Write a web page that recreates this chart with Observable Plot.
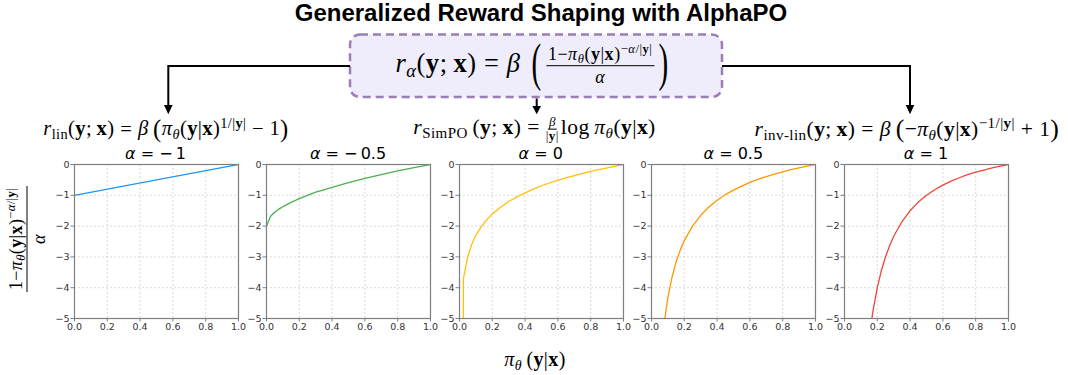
<!DOCTYPE html>
<html>
<head>
<meta charset="utf-8">
<script src="https://cdn.jsdelivr.net/npm/d3@7"></script>
<script src="https://cdn.jsdelivr.net/npm/@observablehq/plot@0.6"></script>
<style>
  html, body { margin: 0; padding: 0; background: #fff; }
  #wrap { position: relative; width: 1068px; height: 375px; background: #fff; overflow: hidden; }
  .title { position: absolute; left: 541px; top: 13px; transform: translate(-50%, -50%);
    font-family: "Liberation Sans", Arial, sans-serif; font-weight: bold; font-size: 24px; white-space: nowrap; color: #000; }
  .mf { position: absolute; transform: translate(-50%, -50%); font-family: "Liberation Serif", "DejaVu Serif", serif;
    white-space: nowrap; color: #000; line-height: 1; letter-spacing: 0.02em; }
  .mf i { font-style: italic; }
  .mf b { font-weight: bold; font-style: normal; }
  .mf sub { font-size: 70%; vertical-align: -0.25em; line-height: 0; }
  .mf sup { font-size: 70%; vertical-align: 0.55em; line-height: 0; }
  .rel { margin: 0 0.28em; }
  .frac { display: inline-flex; flex-direction: column; align-items: center; vertical-align: middle; }
  .frac > .num { border-bottom: 1px solid #000; padding: 0 2px 2px 2px; }
  .frac > .den { padding-top: 2px; }
  .frac.small { line-height: 0.95; margin-right: 2px; }
  .frac.small > .num { padding: 0 1px 1px 1px; }
  .frac.small > .den { padding-top: 0; }
  .bigp { display: inline-block; font-size: 2.0em; transform: scaleX(0.55); vertical-align: middle; line-height: 1; margin-top: -0.14em; }
  .mp { display: inline-block; font-size: 1.2em; vertical-align: -0.05em; line-height: 1; }
  .ptitle { position: absolute; transform: translate(-50%, 0); font-family: "DejaVu Sans", sans-serif; font-size: 16px; white-space: nowrap; color: #000; }
  .ptitle i { font-style: italic; }
  .panel { position: absolute; }
  #overlay { position: absolute; left: 0; top: 0; }
</style>
</head>
<body>
<div id="wrap">
  <svg id="overlay" width="1068" height="375">
    <rect x="350" y="34.5" width="372" height="62.5" rx="10" ry="10" fill="#EFEDFB" stroke="#9B7DB8" stroke-width="2.5" stroke-dasharray="8 5"></rect>
    <path d="M350,66 H168.3 V106" fill="none" stroke="#000" stroke-width="2"></path>
    <polygon points="164,105 172.6,105 168.3,114.3" fill="#000"></polygon>
    <path d="M536.7,98.5 V107" fill="none" stroke="#000" stroke-width="2"></path>
    <polygon points="532.4,106 541,106 536.7,114.3" fill="#000"></polygon>
    <path d="M722,66 H910 V106" fill="none" stroke="#000" stroke-width="2"></path>
    <polygon points="905.7,105 914.3,105 910,114.3" fill="#000"></polygon>
  </svg>
  <div class="title">Generalized Reward Shaping with AlphaPO</div>

  <div class="mf" style="left:534px; top:66px; font-size:26.5px;">
    <i>r</i><sub><i>α</i></sub>(<b>y</b>;&thinsp;<b>x</b>)<span class="rel">=</span><i>β</i>&nbsp;<span class="bigp">(</span><span class="frac" style="font-size:18px;"><span class="num">1−<i>π</i><sub><i>θ</i></sub>(<b>y</b>|<b>x</b>)<sup>−<i>α</i>/|<b>y</b>|</sup></span><span class="den"><i>α</i></span></span><span class="bigp">)</span>
  </div>

  <div class="mf" style="left:166px; top:129px; font-size:20.5px;">
    <i>r</i><sub>lin</sub>(<b>y</b>;&thinsp;<b>x</b>)<span class="rel">=</span><i>β</i>&thinsp;<span class="mp">(</span><i>π</i><sub><i>θ</i></sub>(<b>y</b>|<b>x</b>)<sup>1/|<b>y</b>|</sup> − 1<span class="mp">)</span>
  </div>

  <div class="mf" style="left:534.5px; top:129px; font-size:21.5px;">
    <i>r</i><sub>SimPO</sub>&thinsp;(<b>y</b>;&thinsp;<b>x</b>)<span class="rel">=</span><span class="frac small" style="font-size:13px;"><span class="num"><i>β</i></span><span class="den">|<b>y</b>|</span></span>log&thinsp;<i>π</i><sub><i>θ</i></sub>(<b>y</b>|<b>x</b>)
  </div>

  <div class="mf" style="left:907px; top:129px; font-size:21.5px;">
    <i>r</i><sub>inv-lin</sub>(<b>y</b>;&thinsp;<b>x</b>)<span class="rel">=</span><i>β</i>&thinsp;<span class="mp">(</span>−<i>π</i><sub><i>θ</i></sub>(<b>y</b>|<b>x</b>)<sup>−1/|<b>y</b>|</sup> + 1<span class="mp">)</span>
  </div>

  <div class="mf" style="left:27px; top:239px; font-size:18px; transform: translate(-50%, -50%) rotate(-90deg);">
    <span class="frac"><span class="num">1−<i>π</i><sub><i>θ</i></sub>(<b>y</b>|<b>x</b>)<sup>−<i>α</i>/|<b>y</b>|</sup></span><span class="den"><i>α</i></span></span>
  </div>

  <div class="mf" style="left:535px; top:359px; font-size:20px;">
    <i>π</i><sub><i>θ</i></sub>&thinsp;(<b>y</b>|<b>x</b>)
  </div>
</div>

<script>
// ---- Data ----
const alphaLabels = ["−1", "−0.5", "0", "0.5", "1"];
const xTicks = [0, 0.2, 0.4, 0.6, 0.8, 1.0];
const yTicks = [-5, -4, -3, -2, -1, 0];

const piAlphaM1 = [0, 0.5, 1];
const rAlphaM1  = [-1, -0.5, 0];

const piAlphaM05 = [0, 0.025, 0.05, 0.075, 0.1, 0.15, 0.2, 0.25, 0.3, 0.35, 0.4, 0.5, 0.6, 0.7, 0.8, 0.9, 1];
const rAlphaM05  = [-2, -1.68, -1.55, -1.45, -1.37, -1.23, -1.11, -1.0, -0.9, -0.82, -0.74, -0.59, -0.45, -0.33, -0.21, -0.10, 0];

const piAlpha0 = [0.022, 0.024, 0.05, 0.075, 0.1, 0.125, 0.15, 0.175, 0.2, 0.25, 0.3, 0.35, 0.4, 0.45, 0.5, 0.6, 0.7, 0.8, 0.9, 1];
const rAlpha0  = [-7, -3.7, -3.0, -2.59, -2.3, -2.08, -1.9, -1.74, -1.61, -1.39, -1.2, -1.05, -0.92, -0.8, -0.69, -0.51, -0.36, -0.22, -0.11, 0];

const piAlpha05 = [0.08, 0.09, 0.1, 0.125, 0.15, 0.175, 0.2, 0.25, 0.3, 0.35, 0.4, 0.45, 0.5, 0.55, 0.6, 0.65, 0.7, 0.75, 0.8, 0.85, 0.9, 0.95, 1];
const rAlpha05  = [-5.07, -4.67, -4.32, -3.66, -3.16, -2.78, -2.47, -2.0, -1.65, -1.38, -1.16, -0.98, -0.83, -0.70, -0.58, -0.48, -0.39, -0.31, -0.24, -0.17, -0.11, -0.05, 0];

const piAlpha1 = [0.16, 0.175, 0.2, 0.225, 0.25, 0.275, 0.3, 0.35, 0.4, 0.45, 0.5, 0.55, 0.6, 0.65, 0.7, 0.75, 0.8, 0.85, 0.9, 0.95, 1];
const rAlpha1  = [-5.25, -4.71, -4.0, -3.44, -3.0, -2.64, -2.33, -1.86, -1.5, -1.22, -1.0, -0.82, -0.67, -0.54, -0.43, -0.33, -0.25, -0.18, -0.11, -0.05, 0];

// ---- Styling / layout ----
const palette = ["#2196F3", "#4CAF50", "#FFC107", "#FF9800", "#F44336"];
const seriesPi = [piAlphaM1, piAlphaM05, piAlpha0, piAlpha05, piAlpha1];
const seriesR  = [rAlphaM1, rAlphaM05, rAlpha0, rAlpha05, rAlpha1];
const frameLefts = [73.5, 266, 458.7, 651.3, 844];
const frameTop = 164.3, frameW = 164, frameH = 154;
const mL = 30, mR = 12, mT = 20, mB = 22;

const wrap = document.getElementById("wrap");
const yFmt = d => d === 0 ? "0" : "\u2212" + Math.abs(d);
const xFmt = d3.format(".1f");

seriesPi.forEach((pis, i) => {
  const data = pis.map((p, j) => ({pi: p, r: seriesR[i][j]}));
  const chart = Plot.plot({
    width: mL + frameW + mR,
    height: mT + frameH + mB,
    marginLeft: mL, marginRight: mR, marginTop: mT, marginBottom: mB,
    style: {fontFamily: "DejaVu Sans, sans-serif", fontSize: "9.5px", background: "transparent", overflow: "visible"},
    x: {domain: [0, 1], label: null},
    y: {domain: [-5, 0], label: null},
    marks: [
      Plot.gridX(xTicks.slice(1, -1), {stroke: "#cfcfcf", strokeOpacity: 1, strokeWidth: 0.8, strokeDasharray: "2,2"}),
      Plot.gridY(yTicks.slice(1, -1), {stroke: "#cfcfcf", strokeOpacity: 1, strokeWidth: 0.8, strokeDasharray: "2,2"}),
      Plot.line(data, {x: "pi", y: "r", stroke: palette[i], strokeWidth: 1.3, clip: true}),
      Plot.frame({stroke: "#7f7f7f", strokeWidth: 1.2}),
      Plot.axisX(xTicks, {tickSize: 3.5, tickPadding: 1.5, tickFormat: xFmt, stroke: "#7f7f7f", fill: "#333", label: null}),
      Plot.axisY(yTicks, {tickSize: 3.5, tickPadding: 1.5, tickFormat: yFmt, stroke: "#7f7f7f", fill: "#333", label: null})
    ]
  });
  const holder = document.createElement("div");
  holder.className = "panel";
  holder.style.left = (frameLefts[i] - mL) + "px";
  holder.style.top = (frameTop - mT) + "px";
  holder.appendChild(chart);
  wrap.appendChild(holder);

  const t = document.createElement("div");
  t.className = "ptitle";
  t.style.left = (frameLefts[i] + frameW / 2) + "px";
  t.style.top = "144px";
  t.innerHTML = "<i>α</i> = " + (alphaLabels[i].startsWith("−") ? "−\u2009" + alphaLabels[i].slice(1) : alphaLabels[i]);
  wrap.appendChild(t);
});
</script>
</body>
</html>
